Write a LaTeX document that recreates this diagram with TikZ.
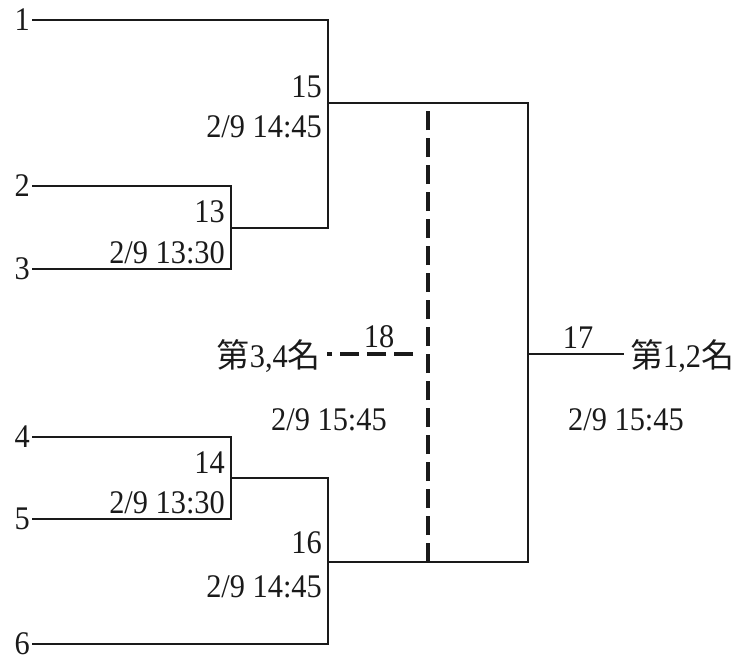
\documentclass[tikz,border=0pt]{standalone}
\usepackage{fontspec}
\setmainfont[FakeStretch=0.92]{Liberation Serif}
\newfontfamily\cjk{Noto Sans CJK TC}
\newcommand\zh[1]{{\fontsize{33}{34}\selectfont\cjk #1}}
\usetikzlibrary{calc,positioning}
\definecolor{ink}{HTML}{1A1A1A}
\tikzset{
  wire/.style={draw=ink,line width=1.5pt},
  dashwire/.style={draw=ink,line width=3.4pt,dash pattern=on 19pt off 8pt},
  lbl/.style={font=\fontsize{33}{35}\selectfont,text=ink,inner sep=0pt},
  seed/.style={lbl,anchor=east,inner xsep=2pt},
  match/.style={lbl,anchor=base east},
  slot/.style={lbl,anchor=base},
  rank/.style={lbl,inner xsep=6pt}
}

\begin{document}
\begin{tikzpicture}[x=1pt,y=-1pt]
    \useasboundingbox (0,0) rectangle (737,662);

    % teams
    \node[seed] (t1) at (32,20) {1};
    \node[seed] (t2) at (32,186) {2};
    \node[seed] (t3) at (32,269) {3};
    \node[seed] (t4) at (32,437) {4};
    \node[seed] (t5) at (32,519) {5};
    \node[seed] (t6) at (32,644) {6};

    % bracket joints
    \coordinate (c13) at (231,228);
    \coordinate (c14) at (231,478);
    \coordinate (c15) at (328,103);
    \coordinate (c16) at (328,562);
    \coordinate (c17) at (528,354);
    \coordinate (c18) at (428,354);

    \node[rank,anchor=base west] (w12) at (624,367) {\zh{第}1,2\zh{名}};
    \node[rank,anchor=base east] (w34) at (327,367) {\zh{第}3,4\zh{名}};

    \draw[wire] (t2.east) -| (c13) |- (t3.east);
    \draw[wire] (t4.east) -| (c14) |- (t5.east);
    \draw[wire] (t1.east) -| (c15) |- (c13);
    \draw[wire] (c14) -| (c16) |- (t6.east);
    \draw[wire] (c15) -| (c17) |- (c16);
    \draw[wire] (c17) -- (c17 -| w12.west);
    \draw[dashwire] (c16 -| c18) -- (c15 -| c18);
    \draw[dashwire,dash phase=19pt,shorten <=7pt] (c18) -- (c18 -| w34.east);

    % game numbers and times
    \node[match] (g13) at (225,222) {13};
    \node[match] (d13) at (225,263) {2/9 13:30};
    \node[match] (g14) at (225,473) {14};
    \node[match] (d14) at (225,513) {2/9 13:30};
    \node[match] (g15) at (322,97) {15};
    \node[match] (d15) at (322,137) {2/9 14:45};
    \node[match] (g16) at (322,553) {16};
    \node[match] (d16) at (322,597) {2/9 14:45};
    \node[slot] (g17) at (578,348) {17};
    \node[slot] (d17) at (626,430) {2/9 15:45};
    \node[slot] (g18) at (379,347) {18};
    \node[slot] (d18) at (329,430) {2/9 15:45};
\end{tikzpicture}
\end{document}
